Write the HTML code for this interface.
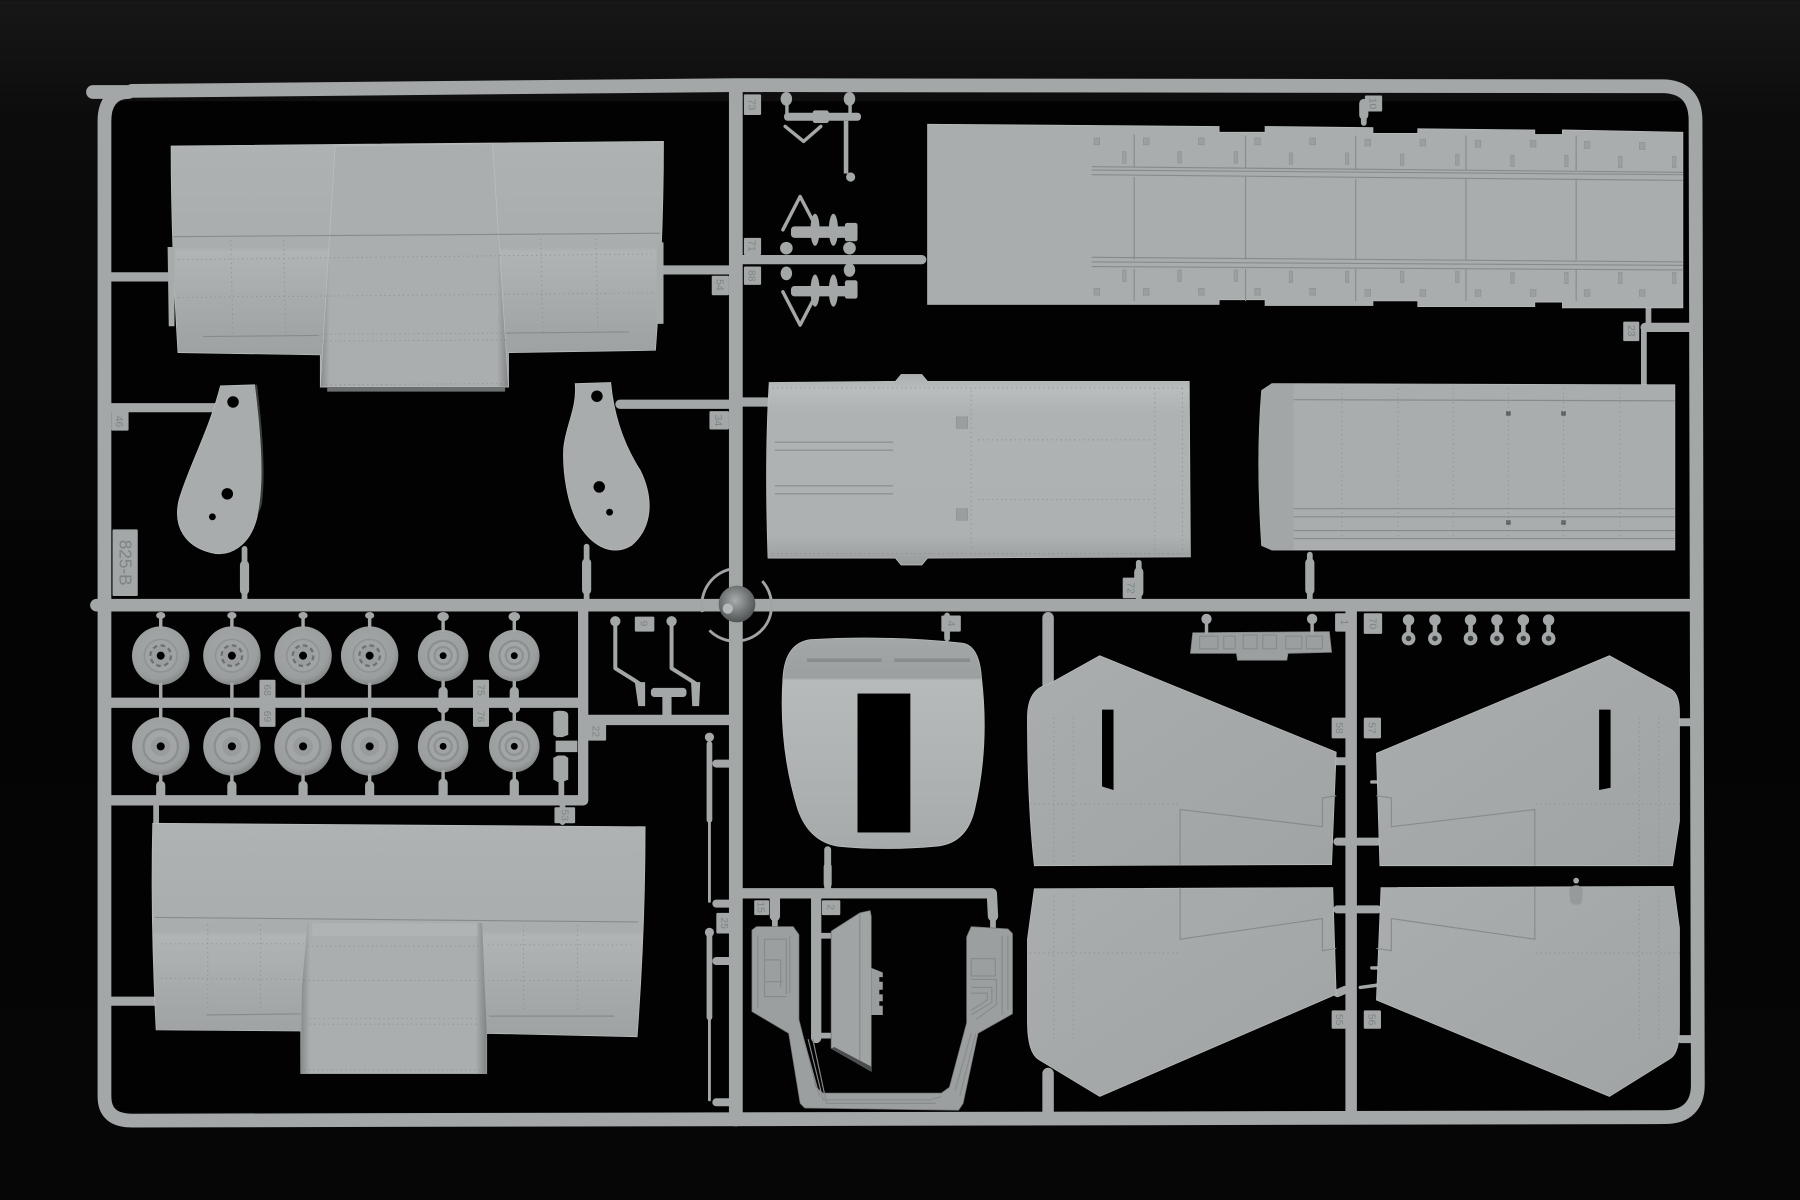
<!DOCTYPE html>
<html><head><meta charset="utf-8"><style>
html,body{margin:0;padding:0;background:#0a0a0a;width:1800px;height:1200px;overflow:hidden}
svg{display:block}
text{font-family:"Liberation Sans",sans-serif;fill:#7f8383;font-size:9px;text-anchor:middle}
.r{fill:none;stroke:#a3a7a7;stroke-linecap:round;stroke-linejoin:round}
.p{stroke:#bcc0c0;stroke-width:.6}
.l{fill:none;stroke:#878b8b;stroke-width:1}
.d{fill:none;stroke:#8a8e8e;stroke-width:.8;stroke-dasharray:1 3}
.t{fill:#a3a7a7}
.h{fill:#000}
</style></head><body>
<svg width="1800" height="1200" viewBox="0 0 1568 1045" xmlns="http://www.w3.org/2000/svg">
<defs>
<linearGradient id="bg" x1="0" y1="0" x2="0" y2="1"><stop offset="0" stop-color="#171717"/><stop offset=".1" stop-color="#0c0c0c"/><stop offset=".5" stop-color="#040404"/><stop offset="1" stop-color="#060606"/></linearGradient>
<linearGradient id="w1" x1="0" y1="0" x2="0" y2="1"><stop offset="0" stop-color="#aeb2b2"/><stop offset=".43" stop-color="#a9adad"/><stop offset=".45" stop-color="#b0b4b4"/><stop offset=".8" stop-color="#a0a4a4"/><stop offset="1" stop-color="#9a9e9e"/></linearGradient>
<linearGradient id="cb" x1="0" y1="0" x2="1" y2="0"><stop offset="0" stop-color="#868a8a"/><stop offset=".05" stop-color="#aaaeae"/><stop offset=".94" stop-color="#aaaeae"/><stop offset="1" stop-color="#7f8383"/></linearGradient>
<linearGradient id="wing" x1="0" y1="0" x2="1" y2="1"><stop offset="0" stop-color="#a9adad"/><stop offset="1" stop-color="#a0a4a4"/></linearGradient>
<linearGradient id="door" x1="0" y1="0" x2="0" y2="1"><stop offset="0" stop-color="#a3a7a7"/><stop offset=".19" stop-color="#9c9f9f"/><stop offset=".2" stop-color="#b6baba"/><stop offset=".55" stop-color="#b0b4b4"/><stop offset="1" stop-color="#a6aaaa"/></linearGradient>
<linearGradient id="mp" x1="0" y1="0" x2="0" y2="1"><stop offset="0" stop-color="#aaaeae"/><stop offset=".08" stop-color="#b9bdbd"/><stop offset=".2" stop-color="#aeb2b2"/><stop offset=".85" stop-color="#adb1b1"/><stop offset="1" stop-color="#989c9c"/></linearGradient>
<radialGradient id="tyre" cx="45%" cy="40%" r="65%"><stop offset="0" stop-color="#a4a8a8"/><stop offset=".75" stop-color="#9a9e9e"/><stop offset="1" stop-color="#7a7e7e"/></radialGradient>
<radialGradient id="hub" cx="45%" cy="40%" r="60%"><stop offset="0" stop-color="#a8acac"/><stop offset="1" stop-color="#4f5353"/></radialGradient>
<g id="wA"><ellipse rx="25" ry="25.5" fill="url(#tyre)"/><circle r="15" fill="#8f9393"/><circle r="13.5" fill="#a0a4a4"/><circle r="9" fill="#9a9e9e" stroke="#6d7171" stroke-width="2" stroke-dasharray="4 3"/><circle r="3.5" fill="#000"/></g>
<g id="wB"><ellipse rx="25" ry="25.5" fill="url(#tyre)"/><circle r="16" fill="#8b8f8f"/><circle r="14" fill="#a2a6a6"/><circle r="8.5" fill="#989c9c"/><circle r="3.5" fill="#000"/></g>
<g id="wC"><ellipse rx="22" ry="22.5" fill="url(#tyre)"/><circle r="14" fill="#8b8f8f"/><circle r="12" fill="#a2a6a6"/><circle r="8.5" fill="#8e9292"/><circle r="6.5" fill="#a0a4a4"/><circle r="3" fill="#000"/></g>
<g id="rg"><circle cy="0" r="5" fill="#a3a7a7"/><rect x="-2" y="2" width="4" height="9" fill="#a3a7a7"/><circle cy="16" r="6" fill="#a3a7a7"/><circle cy="16" r="2.4" fill="#3a3d3d"/></g>
</defs>
<rect width="1568" height="1045" fill="url(#bg)"/>
<rect x="96" y="88" width="1376" height="880" fill="#020202"/>

<!-- main runners -->
<path class="r" stroke-width="12" d="M81,80 L112,80 C98,80 91,90 91,105 L91,955 C91,970 100,976 115,976 L1450,973 C1470,973 1479,962 1479,945 L1477,105 C1477,86 1468,76 1450,75 L640,74 L115,79"/>
<path class="r" stroke-width="11" d="M84,527 L1478,527"/>
<path class="r" stroke-width="12" d="M641,78 L641,975"/>
<path class="r" stroke-width="10" d="M1177,532 L1177,973"/>
<path class="r" stroke-width="10" d="M913,538 L913,596 M913,935 L913,972"/>
<path class="r" stroke-width="9" d="M92,612 L508,612 M92,697 L508,697 M508,530 L508,697 M510,627 L637,627"/>
<path class="r" stroke-width="9" d="M645,778 L864,778 L865,798 M675,780 L675,798 M711,780 L711,904"/>
<path class="r" stroke-width="5" d="M711,815 H725 M711,902 H725 M675,798 V808 M865,798 V808"/>
<path class="r" stroke-width="8" d="M97,241 L150,241 M578,235 L636,235 M646,226 L803,226 M97,355 L187,355 M540,352 L636,352 M646,350 L668,350 M1433,285 L1475,285 M94,872 L135,872"/>
<path class="r" stroke-width="5" d="M1432,285 L1432,335 M1436,264 L1436,285 M213,478 L213,522 M511,476 L511,522 M992,490 L992,522 M1141,483 L1141,522 M1188,90 L1188,107 M721,740 L721,775 M825,536 L825,556 M490,700 L490,716 M136,700 L136,716"/>
<path class="r" stroke-width="8" d="M213,492 V514 M511,490 V514 M992,498 V516 M1141,490 V514 M1188,90 V100"/>
<path class="r" stroke-width="7" d="M1164,663 L1172,663 M1165,733 L1172,733 M1165,792 L1172,792 M1165,865 L1172,862 M1183,733 L1200,733 M1183,792 L1200,792 M1464,629 L1474,629 M1464,905 L1474,905 M721,755 V770"/>
<path class="r" stroke-width="3" d="M1185,860 L1200,858 M1195,843 H1200 M1195,681 H1200"/>

<!-- top-left wing -->
<path class="p" fill="url(#w1)" d="M149,127 L578,123 Q578,210 571,305 L443,307 L443,337 L279,337 L279,309 L155,307 Q149,210 149,127Z"/>
<path class="p" fill="url(#cb)" d="M292,127 L429,125 L443,337 L279,337Z"/>
<path fill="#6b6f6f" d="M285,337 H440 V341 H285Z"/>
<path class="l" stroke-width="1.4" d="M151,206 L575,203"/>
<path class="d" d="M155,226 L570,221 M155,259 L570,255 M280,291 L442,290 M280,297 L442,296 M280,335 L442,334 M201,209 L203,292 M247,209 L249,292 M471,208 L473,290 M519,208 L521,290"/>
<path class="l" stroke="#bcc0c0" d="M177,293 L278,292 M441,290 L548,289"/>
<path fill="#a7abab" d="M146,215 H152 V284 H147Z M572,211 H578 V282 H572Z"/>

<!-- rudders -->
<path class="p" fill="#a8acac" d="M192,336 L222,335 C227,375 231,420 224,450 C218,475 200,486 183,481 C163,476 150,460 156,435 C165,405 182,375 192,336Z"/>
<path fill="#3a3d3d" d="M222,335 C227,375 231,420 224,450 L228,440 C232,410 228,370 224,335Z"/>
<circle class="h" cx="203" cy="350" r="5"/><circle class="h" cx="198" cy="430" r="5"/><circle class="h" cx="185" cy="450" r="3"/>
<path class="p" fill="#a8acac" d="M501,334 L532,333 C535,365 545,390 558,410 C570,435 568,460 550,475 C535,484 518,478 505,458 C494,440 490,410 491,390 C493,370 503,355 501,334Z"/>
<circle class="h" cx="520" cy="345" r="5"/><circle class="h" cx="522" cy="424" r="5"/><circle class="h" cx="531" cy="446" r="3"/>

<!-- top-right large panel -->
<path class="p" fill="#a9adad" d="M808,108 L1062,110 L1062,115 L1102,115 L1102,110 L1196,111 L1196,116 L1235,116 L1235,112 L1337,113 L1337,117 L1361,117 L1361,113 L1466,115 L1466,268 L1361,268 L1361,263 L1337,263 L1337,267 L1235,267 L1235,262 L1196,262 L1196,266 L1102,266 L1102,261 L1062,261 L1062,265 L808,265Z"/>
<path class="l" stroke="#93979a" d="M951,145 L1466,150 M951,148 L1466,152 M951,152 L1466,157 M951,224 L1466,228 M951,228 L1466,231 M951,232 L1466,235"/>
<path class="l" stroke="#979b9b" d="M988,117 L988,145 M988,154 V226 M988,234 V262 M1085,118 V146 M1085,154 V226 M1085,234 V262 M1181,118 V148 M1181,156 V226 M1181,234 V262 M1277,118 V148 M1277,156 V226 M1277,234 V262 M1373,118 V148 M1373,156 V226 M1373,234 V262"/>
<path fill="#9b9f9f" stroke="#8b8f8f" stroke-width=".5" d="M953,120h5v6h-5zM996,120h5v6h-5zM1044,120h5v6h-5zM1093,120h5v6h-5zM1141,120h5v6h-5zM1189,121h5v6h-5zM1237,121h5v6h-5zM1285,122h5v6h-5zM1333,122h5v6h-5zM1380,123h5v6h-5zM1428,124h5v6h-5zM953,251h5v6h-5zM996,251h5v6h-5zM1044,251h5v6h-5zM1093,251h5v6h-5zM1141,251h5v6h-5zM1189,252h5v6h-5zM1237,252h5v6h-5zM1285,252h5v6h-5zM1333,252h5v6h-5zM1380,252h5v6h-5zM1428,252h5v6h-5zM978,132h3v10h-3zM1026,132h3v10h-3zM1075,132h3v10h-3zM1123,133h3v10h-3zM1172,133h3v10h-3zM1220,134h3v10h-3zM1268,134h3v10h-3zM1316,135h3v10h-3zM1363,135h3v10h-3zM1410,136h3v10h-3zM1457,136h3v10h-3zM978,235h3v10h-3zM1026,235h3v10h-3zM1075,235h3v10h-3zM1123,236h3v10h-3zM1172,236h3v10h-3zM1220,236h3v10h-3zM1268,236h3v10h-3zM1316,237h3v10h-3zM1363,237h3v10h-3zM1410,237h3v10h-3zM1457,237h3v10h-3z"/>

<!-- middle panel -->
<path class="p" fill="url(#mp)" d="M670,333 L780,332 L785,326 L803,326 L808,332 L1036,332 L1037,485 L808,486 L803,492 L785,492 L780,486 L669,486 Q666,400 670,333Z"/>
<path class="d" d="M673,338 L1032,338 M673,482 L1032,482 M1006,338 V480 M1030,338 V480 M846,340 V480 M852,383 L1004,383 M852,435 L1004,435"/>
<path class="l" stroke="#9ca0a0" d="M675,385 L778,385 M675,392 L778,392 M675,423 L778,423 M675,430 L778,430"/>
<rect x="833" y="363" width="10" height="10" fill="#9a9e9e" stroke="#8b8f8f" stroke-width=".5"/><rect x="833" y="443" width="10" height="10" fill="#9a9e9e" stroke="#8b8f8f" stroke-width=".5"/>

<!-- right panel -->
<path class="p" fill="#a9adad" d="M1108,334 L1459,335 L1459,479 L1108,479 L1099,475 Q1094,400 1099,340Z"/>
<path fill="#a2a6a6" d="M1108,334 L1127,334 L1127,479 L1108,479 L1099,475 Q1094,400 1099,340Z"/>
<path class="l" stroke="#9a9e9e" d="M1127,348 L1459,349 M1127,443 L1459,443 M1127,450 L1459,450 M1127,462 L1459,462 M1127,469 L1459,469"/>
<path fill="#5e6262" d="M1312,358h4v4h-4zM1360,358h4v4h-4zM1312,453h4v4h-4zM1360,453h4v4h-4z"/>
<path class="d" d="M1169,338 V470 M1218,338 V470 M1266,338 V470 M1314,338 V470 M1362,338 V470 M1411,338 V470" stroke-dasharray="1 13"/>

<!-- top gear parts -->
<g class="t">
<ellipse cx="685" cy="86" rx="5" ry="6"/><ellipse cx="740" cy="86" rx="5" ry="6"/><rect x="683" y="98" width="67" height="7" rx="3"/><rect x="708" y="96" width="14" height="11" rx="2"/><rect x="735" y="105" width="4" height="46"/><circle cx="741" cy="154" r="4"/><rect x="684" y="91" width="3" height="9"/><rect x="739" y="91" width="3" height="9"/>
<ellipse cx="710" cy="200" rx="4" ry="14"/><ellipse cx="726" cy="200" rx="4" ry="14"/><rect x="689" y="197" width="58" height="10" rx="3"/><rect x="736" y="194" width="11" height="16" rx="2"/><circle cx="685" cy="216" r="5.5"/><circle cx="740" cy="216" r="5.5"/>
<ellipse cx="685" cy="238" rx="5" ry="6"/><ellipse cx="740" cy="235" rx="5" ry="6"/><ellipse cx="710" cy="253" rx="4" ry="14"/><ellipse cx="726" cy="253" rx="4" ry="14"/><rect x="689" y="249" width="58" height="9" rx="3"/><rect x="736" y="244" width="11" height="16" rx="2"/>
</g>
<path class="r" stroke-width="3" d="M684,110 L700,123 L715,110 M697,171 L682,200 M697,171 L708,192 M682,254 L697,283 L710,258"/>

<!-- hub -->
<path fill="none" stroke="#a0a4a4" stroke-width="2.5" d="M640,495 A32,32 0 0 0 612,533 M618,549 A32,32 0 0 0 668,543 A32,32 0 0 0 664,506"/>
<path class="r" stroke-width="9" d="M640,495 V505 M642,548 V556"/>
<circle cx="642" cy="526" r="16" fill="url(#hub)"/><circle cx="634" cy="530" r="4.5" fill="#b5b9b9"/>

<!-- wheels -->
<use href="#wA" x="140" y="571"/><use href="#wA" x="202" y="571"/><use href="#wA" x="264" y="571"/><use href="#wA" x="322" y="571"/><use href="#wC" x="386" y="571"/><use href="#wC" x="448" y="571"/>
<use href="#wB" x="140" y="650"/><use href="#wB" x="202" y="650"/><use href="#wB" x="264" y="650"/><use href="#wB" x="322" y="650"/><use href="#wC" x="386" y="650"/><use href="#wC" x="448" y="650"/>
<path class="r" stroke-width="3" d="M140,538 V546 M202,538 V546 M264,538 V546 M322,538 V546 M386,538 V549 M448,538 V549 M140,596 V612 M202,596 V612 M264,596 V612 M322,596 V612 M386,594 V612 M448,594 V612 M140,612 V625 M202,612 V625 M264,612 V625 M322,612 V625 M386,612 V628 M448,612 V628 M140,675 V697 M202,675 V697 M264,675 V697 M322,675 V697 M386,672 V697 M448,672 V697"/>
<path fill="#a3a7a7" d="M136,536a4,3 0 1,0 8,0a4,3 0 1,0 -8,0M198,536a4,3 0 1,0 8,0a4,3 0 1,0 -8,0M260,536a4,3 0 1,0 8,0a4,3 0 1,0 -8,0M318,536a4,3 0 1,0 8,0a4,3 0 1,0 -8,0M381,537a5,4 0 1,0 10,0a5,4 0 1,0 -10,0M443,537a5,4 0 1,0 10,0a5,4 0 1,0 -10,0M381,617a5,4 0 1,0 10,0a5,4 0 1,0 -10,0M443,617a5,4 0 1,0 10,0a5,4 0 1,0 -10,0"/>
<path class="r" stroke-width="8" d="M140,684 V692 M202,684 V692 M264,684 V692 M322,684 V692 M386,682 V692 M448,682 V692 M386,602 V608 M448,602 V608"/>

<!-- small bits -->
<path class="t" d="M482,621 Q482,619 488,619 Q495,619 495,623 V640 L490,642 H485 L482,640Z M482,660 L486,658 H492 L495,660 V679 L490,681 H486 L482,679Z M484,645 H503 V655 H484Z"/>
<path class="r" stroke-width="5" d="M489,681 V694"/>
<path class="r" stroke-width="3.5" d="M536,543 L536,582 L552,592 L558,596 M585,543 L585,582 L601,592 L607,596"/>
<circle class="t" cx="536" cy="541" r="4.5"/><circle class="t" cx="585" cy="541" r="4.5"/>
<rect class="t" x="567" y="599" width="31" height="8" rx="3"/><rect class="t" x="577" y="603" width="8" height="22"/>
<path class="t" d="M553,594h9v21h-6zM602,594h8l-1,21h-6z"/>
<!-- struts -->
<path class="r" stroke-width="5" d="M618,648 V714 M618,816 V886"/>
<path class="r" stroke-width="2.5" d="M618,714 V785 M618,886 V958"/>
<circle class="t" cx="618" cy="642" r="4"/><circle class="t" cx="618" cy="812" r="4"/>
<path class="r" stroke-width="7" d="M624,665 H636 M624,787 H636 M624,837 H636 M624,960 H636"/>

<!-- bar part -->
<path fill="#9b9f9f" stroke="#7a7e7e" stroke-width=".6" d="M1039,551 L1158,550 L1160,568 L1122,569 L1121,575 L1078,575 L1077,569 L1037,569Z"/>
<path class="l" stroke="#6f7373" stroke-width=".8" d="M1045,554h16v11h-16zM1066,554h10v11h-10zM1083,553h12v12h-12zM1100,553h12v12h-12zM1120,554h14v11h-14zM1138,554h14v11h-14z"/>
<circle class="t" cx="1051" cy="539" r="4.5"/><circle class="t" cx="1143" cy="539" r="4.5"/><path class="r" stroke-width="3" d="M1051,543V551M1143,543V551"/>
<use href="#rg" x="1227" y="540"/><use href="#rg" x="1250" y="540"/><use href="#rg" x="1281" y="540"/><use href="#rg" x="1304" y="540"/><use href="#rg" x="1327" y="540"/><use href="#rg" x="1349" y="540"/>

<!-- door -->
<path class="p" fill="url(#door)" d="M706,557 Q770,553 838,560 Q853,562 855,590 Q862,650 849,705 Q842,735 815,737 Q770,741 730,737 Q705,733 695,705 Q678,650 682,590 Q684,560 706,557Z"/>
<rect class="h" x="747" y="604" width="46" height="121"/>
<path stroke="#888c8c" stroke-width="3" d="M703,575 H768 M779,575 H845"/>
<path class="r" stroke-width="6" d="M721,740 L721,775"/>

<!-- bottom-left wing -->
<path class="p" fill="url(#w1)" d="M133,717 L562,720 Q562,810 555,903 L424,900 L424,935 L262,935 L262,898 L136,897 Q131,800 133,717Z"/>
<path d="M268,803 L420,804 L424,900 L424,935 L262,935 L263,860Z" fill="url(#cb)"/>
<path fill="#b5b9b9" d="M272,804 H416 V815 H272Z" opacity=".5"/>
<path class="l" stroke="#787c7c" stroke-width="1.4" d="M135,799 L556,803"/>
<path class="d" d="M140,822 L265,822 M425,823 L553,823 M140,852 L265,853 M425,854 L553,854 M268,824 L420,824 M265,854 L420,854 M270,887 L420,887 M270,892 L420,892 M265,932 L420,932 M181,805 V881 M227,805 V881 M456,806 V881 M503,806 V881"/>
<path class="l" stroke="#bcc0c0" d="M180,884 L262,883 M426,885 L535,885"/>

<!-- tail surfaces -->
<path class="p" fill="url(#wing)" d="M958,571 L1164,655 L1160,753 L901,754 Q895,700 895,625 Q895,600 913,596Z"/>
<path class="h" d="M960,618 H970 V688 L960,685Z"/>
<path class="l" stroke-width="1.2" d="M1028,754 V705 L1152,720 V695 L1164,693"/>
<path class="d" d="M918,625 V750 M935,625 V750 M897,700 H1027"/>

<path class="p" fill="url(#wing)" d="M901,774 L1161,773 L1164,866 L958,955 L905,923 Q895,917 895,890 L895,818Z"/>
<path class="l" stroke-width="1.2" d="M1028,773 V818 L1152,800 V828 L1164,826"/>
<path class="d" d="M918,780 V905 M935,780 V905 M897,830 H1027"/>

<path class="p" fill="url(#wing)" d="M1402,571 L1455,600 Q1463,604 1463,620 L1463,715 L1457,754 L1202,754 L1199,656Z"/>
<path class="h" d="M1393,618 H1403 V686 L1393,688Z"/>
<path class="l" stroke-width="1.2" d="M1337,754 V705 L1212,720 V695 L1199,693"/>
<path class="d" d="M1445,625 V750 M1428,625 V750 M1463,700 H1337"/>

<path class="p" fill="url(#wing)" d="M1203,773 L1458,772 L1463,808 L1463,895 Q1463,917 1455,922 L1402,955 L1199,871Z"/>
<path class="l" stroke-width="1.2" d="M1337,772 V818 L1212,800 V828 L1199,826"/>
<path class="d" d="M1445,780 V905 M1428,780 V905 M1463,830 H1337"/>
<path d="M1367,774 Q1373,768 1379,774 L1378,786 Q1373,790 1368,786Z" fill="#969a9a"/>
<circle class="t" cx="1373" cy="767" r="2.5"/>

<!-- interior frame -->
<path fill="#9b9f9f" stroke="#6e7272" stroke-width=".6" d="M655,810 L659,807 L691,807 L696,814 L696,888 L711,947 L717,952 L820,952 L827,947 L842,891 L842,816 L846,807 L878,809 L882,813 L882,883 L852,900 L839,961 L835,967 L701,965 L697,961 L687,900 L655,881Z"/>
<path class="l" stroke="#6f7373" stroke-width=".8" d="M660,815 V878 M666,818 V868 H685 M666,818 H685 V866 M666,836 H680 M666,855 H682 M680,836 V860 M688,815 V865 M878,815 V880 M873,815 V884 M846,835 H867 V850 H846Z M846,853 H868 V875 L850,888 M846,860 H864 V873 L846,884 M846,865 H860 V871 L846,880 M700,905 L714,955 M704,905 L717,958 H810 L820,955 M708,905 L720,961 H815 M846,900 L832,950 M850,900 L836,955"/>
<path fill="#a0a4a4" stroke="#6a6e6e" stroke-width=".6" d="M724,811 L749,795 L758,793 L759,798 L759,933 L724,913Z"/>
<path class="l" stroke="#868a8a" stroke-width=".8" d="M749,795 V926"/>
<path fill="#999d9d" d="M759,843 L769,847 V851 H766 V855 H769 V862 H766 V866 H769 V872 H766 V876 H769 V884 L759,884Z"/>
<path fill="#4a4d4d" d="M724,913 L759,933 V929 L727,912Z"/>

<!-- tags -->
<g class="t">
<rect x="648" y="82" width="15" height="18" rx="1"/><rect x="1189" y="83" width="15" height="14" rx="1"/><rect x="648" y="207" width="15" height="15" rx="1"/><rect x="648" y="232" width="15" height="16" rx="1"/><rect x="620" y="240" width="15" height="17" rx="1"/>
<rect x="97" y="358" width="15" height="17" rx="1"/><rect x="618" y="358" width="17" height="16" rx="1"/><rect x="98" y="461" width="22" height="58" rx="1"/>
<rect x="978" y="503" width="15" height="18" rx="1"/><rect x="1414" y="280" width="14" height="17" rx="1"/><rect x="553" y="537" width="17" height="13" rx="1"/><rect x="820" y="536" width="17" height="14" rx="1"/>
<rect x="1163" y="534" width="17" height="16" rx="1"/><rect x="1188" y="534" width="16" height="18" rx="1"/><rect x="511" y="630" width="17" height="15" rx="1"/>
<rect x="226" y="592" width="14" height="18" rx="1"/><rect x="226" y="616" width="14" height="17" rx="1"/><rect x="412" y="592" width="14" height="18" rx="1"/><rect x="412" y="615" width="14" height="18" rx="1"/>
<rect x="1160" y="625" width="14" height="18" rx="1"/><rect x="1188" y="625" width="15" height="18" rx="1"/><rect x="1160" y="880" width="14" height="16" rx="1"/><rect x="1188" y="880" width="15" height="16" rx="1"/>
<rect x="483" y="703" width="18" height="14" rx="1"/><rect x="657" y="784" width="13" height="13" rx="1"/><rect x="716" y="784" width="16" height="13" rx="1"/><rect x="624" y="795" width="15" height="18" rx="1"/>
</g>
<text transform="translate(655,91) rotate(90)" dy="3">73</text>
<text transform="translate(1196,90) rotate(90)" dy="3">10</text>
<text transform="translate(655,214) rotate(90)" dy="3">71</text>
<text transform="translate(655,240) rotate(90)" dy="3">88</text>
<text transform="translate(627,248) rotate(90)" dy="3">54</text>
<text transform="translate(104,367) rotate(90)" dy="3">46</text>
<text transform="translate(626,366) rotate(90)" dy="3">34</text>
<text transform="translate(109,490) rotate(90)" dy="5" style="font-size:15px">825-B</text>
<text transform="translate(985,512) rotate(90)" dy="3">72</text>
<text transform="translate(1421,288) rotate(90)" dy="3">23</text>
<text transform="translate(561,543) rotate(90)" dy="3">9</text>
<text transform="translate(829,543) rotate(90)" dy="3">4</text>
<text transform="translate(1171,542) rotate(90)" dy="3">1</text>
<text transform="translate(1196,543) rotate(90)" dy="3">70</text>
<text transform="translate(519,637) rotate(90)" dy="3">22</text>
<text transform="translate(233,601) rotate(90)" dy="3">68</text>
<text transform="translate(233,624) rotate(90)" dy="3">69</text>
<text transform="translate(419,601) rotate(90)" dy="3">75</text>
<text transform="translate(419,624) rotate(90)" dy="3">76</text>
<text transform="translate(1167,634) rotate(90)" dy="3">58</text>
<text transform="translate(1195,634) rotate(90)" dy="3">57</text>
<text transform="translate(1167,888) rotate(90)" dy="3">55</text>
<text transform="translate(1195,888) rotate(90)" dy="3">56</text>
<text transform="translate(492,710) rotate(90)" dy="3">53</text>
<text transform="translate(663,790) rotate(90)" dy="3">15</text>
<text transform="translate(724,790) rotate(90)" dy="3">2</text>
<text transform="translate(631,804) rotate(90)" dy="3">25</text>
</svg>
</body></html>
